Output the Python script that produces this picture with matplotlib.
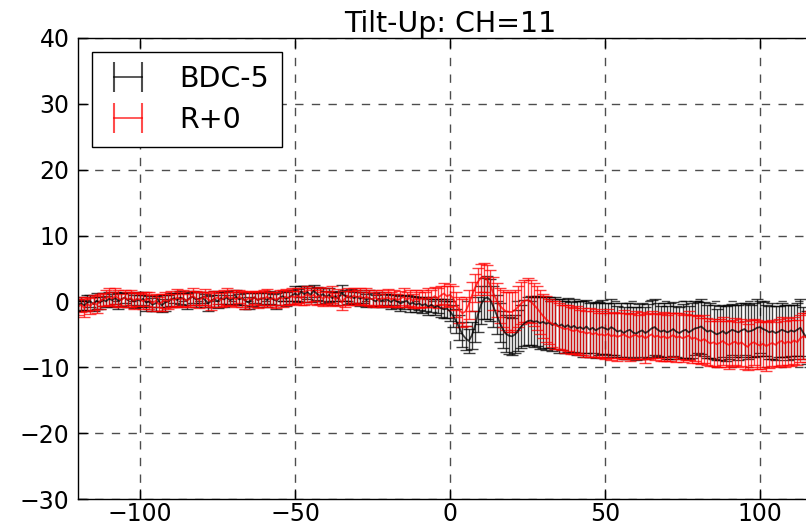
import matplotlib
matplotlib.use('Agg')
import matplotlib.pyplot as plt
from matplotlib.lines import Line2D
import numpy as np

# 数据：x 从 -120 到 116，步长 1
x = np.arange(-120, 117)

bdc = [
    -0.5, -0.3, -0.6, -0.2, 0.0, -0.4, 0.1, -0.2, 0.3, 0.0,
    0.4, 0.2, 0.5, 0.1, 0.3, 0.6, 0.2, 0.4, 0.0, 0.3,
    0.1, 0.4, -0.2, 0.0, -0.5, -0.3, 0.1, -0.6, -0.2, 0.0,
    0.3, 0.5, 0.2, 0.6, 0.4, 0.1, 0.5, 0.7, 0.3, 0.4,
    0.6, 0.2, -0.3, 0.1, 0.4, 0.0, 0.5, 0.3, 0.6, 0.2,
    0.4, 0.7, 0.3, 0.5, 0.1, -0.2, 0.3, 0.6, 0.2, 0.4,
    0.5, 0.2, 0.6, 0.3, 0.1, 0.5, 0.8, 0.4, 0.6, 0.9,
    1.2, 0.9, 1.5, 1.1, 1.4, 1.0, 1.6, 1.2, 0.8, 1.1,
    0.7, 1.0, 0.5, 0.8, 0.4, 1.3, 0.9, 0.6, 0.8, 0.5,
    0.7, 0.4, 0.6, 0.2, 0.5, 0.3, 0.0, 0.4, 0.1, 0.3,
    0.2, -0.1, 0.3, 0.0, -0.3, -0.1, 0.1, -0.4, -0.2, -0.5,
    -0.3, -0.6, -0.4, -0.8, -0.5, -0.9, -0.7, -1.0, -1.2, -1.1,
    -1.5, -2.2, -3.0, -4.0, -5.0, -5.6, -6.0, -5.2, -3.8, -2.0,
    -0.5, 0.4, 0.6, 0.2, -0.8, -2.0, -3.2, -4.2, -4.9, -5.2,
    -5.3, -5.0, -4.4, -3.8, -3.3, -3.0, -2.9, -3.1, -3.0, -3.3,
    -3.1, -3.4, -3.2, -3.6, -3.3, -3.8, -3.5, -3.9, -3.6, -4.0,
    -3.7, -4.1, -3.9, -4.2, -3.8, -4.3, -4.0, -4.4, -4.1, -3.9,
    -4.1, -4.3, -3.9, -4.2, -4.6, -4.4, -4.8, -4.5, -4.3, -4.7,
    -4.9, -4.6, -4.4, -4.8, -4.5, -4.1, -3.9, -4.3, -4.6, -4.4,
    -4.7, -4.5, -4.2, -4.6, -4.8, -4.5, -4.3, -4.7, -4.4, -4.1,
    -4.0, -3.8, -4.2, -4.6, -4.4, -4.7, -5.0, -4.8, -4.5, -4.9,
    -4.6, -4.3, -4.5, -4.7, -4.4, -4.2, -4.6, -4.5, -4.3, -4.0,
    -3.9, -4.2, -4.4, -4.7, -4.5, -4.8, -4.6, -4.3, -4.5, -4.7,
    -4.4, -4.6, -4.3, -4.0, -4.8, -5.5, -5.8,
]
bdc_err = [
    0.9, 1.0, 0.8, 1.1, 0.9, 1.0, 1.2, 0.9, 1.0, 0.8,
    1.1, 1.0, 0.9, 1.2, 1.0, 0.8, 1.1, 0.9, 1.0, 1.1,
    0.9, 1.0, 1.2, 0.8, 1.0, 1.1, 0.9, 1.0, 1.2, 0.9,
    1.0, 0.8, 1.1, 1.0, 0.9, 1.2, 1.0, 0.9, 1.1, 1.0,
    0.8, 1.0, 1.1, 0.9, 1.2, 1.0, 0.9, 1.1, 1.0, 0.8,
    1.0, 1.1, 0.9, 1.0, 1.2, 0.9, 1.0, 0.8, 1.1, 1.0,
    0.9, 1.1, 1.0, 0.9, 1.2, 1.0, 0.8, 1.1, 1.0, 0.9,
    1.1, 1.0, 0.9, 1.2, 1.0, 1.1, 0.9, 1.0, 1.2, 1.0,
    0.9, 1.1, 1.0, 0.8, 1.0, 1.2, 0.9, 1.0, 1.1, 0.9,
    1.0, 1.1, 0.9, 1.0, 1.2, 1.0, 0.9, 1.1, 1.0, 0.9,
    1.0, 1.1, 0.9, 1.0, 1.1, 1.0, 0.9, 1.2, 1.0, 1.1,
    1.0, 1.1, 1.0, 1.2, 1.1, 1.2, 1.1, 1.3, 1.3, 1.4,
    1.5, 1.7, 1.8, 1.9, 1.9, 1.8, 1.8, 2.0, 2.3, 2.6,
    2.9, 3.1, 3.2, 3.2, 3.1, 3.0, 2.9, 2.8, 2.8, 2.8,
    2.8, 2.9, 3.1, 3.3, 3.5, 3.6, 3.7, 3.8, 3.8, 3.9,
    3.9, 4.0, 3.9, 4.0, 3.9, 4.1, 3.9, 4.0, 4.1, 3.9,
    4.0, 4.1, 3.9, 4.2, 4.0, 4.1, 3.9, 4.2, 4.0, 4.1,
    3.9, 4.1, 4.2, 4.0, 3.9, 4.1, 4.0, 4.2, 4.1, 3.9,
    4.0, 4.2, 4.1, 3.9, 4.1, 4.3, 4.2, 4.0, 3.9, 4.1,
    4.0, 4.2, 4.1, 3.9, 4.0, 4.1, 4.3, 4.0, 4.2, 4.1,
    3.9, 4.2, 4.1, 4.0, 4.2, 4.1, 3.9, 4.1, 4.0, 4.2,
    4.1, 3.9, 4.0, 4.2, 4.1, 4.0, 4.2, 3.9, 4.1, 4.3,
    4.0, 4.1, 3.9, 4.0, 4.2, 4.1, 3.9, 4.1, 4.0, 4.2,
    3.9, 4.1, 4.0, 4.3, 3.9, 4.0, 4.1,
]

r0 = [
    -0.8, -0.5, -1.0, -0.4, -0.7, -0.2, -0.5, 0.0, 0.3, 0.5,
    0.7, 0.4, 0.8, 0.5, 0.2, 0.6, 0.3, 0.5, 0.1, 0.4,
    0.3, 0.0, 0.4, 0.2, -0.3, 0.1, -0.4, -0.1, 0.2, 0.0,
    0.4, 0.2, 0.6, 0.3, 0.5, 0.1, 0.4, 0.8, 0.5, 0.2,
    0.5, 0.7, 0.3, 0.0, 0.4, 0.6, 0.2, 0.5, 0.8, 0.4,
    0.6, 0.3, 0.7, 0.4, 0.1, 0.5, 0.3, 0.6, 0.2, 0.5,
    0.4, 0.7, 0.3, 0.5, 0.2, 0.6, 0.4, 0.7, 0.5, 0.8,
    0.6, 0.9, 0.5, 0.8, 1.1, 0.7, 1.0, 0.6, 0.9, 0.4,
    0.8, 0.5, 1.0, 0.3, 0.7, -0.2, 0.4, 0.8, 0.5, 0.9,
    0.6, 0.8, 0.4, 0.7, 0.5, 0.3, 0.6, 0.2, 0.5, 0.4,
    0.6, 0.3, 0.5, 0.2, 0.4, 0.7, 0.3, 0.5, 0.1, 0.4,
    0.2, 0.5, 0.3, 0.6, 0.4, 0.8, 0.5, 0.9, 1.2, 0.8,
    1.0, 0.5, -0.5, -1.3, -1.8, -1.5, -0.5, 0.8, 2.0, 3.0,
    3.6, 3.7, 3.3, 2.4, 1.2, 0.2, -0.6, -1.1, -1.5, -1.6,
    -1.6, -1.3, -0.8, -0.3, 0.1, 0.2, 0.0, -0.5, -1.0, -1.6,
    -2.2, -2.7, -3.1, -3.4, -3.6, -3.8, -4.0, -4.2, -4.1, -4.4,
    -4.5, -4.3, -4.7, -4.6, -4.9, -4.7, -5.0, -4.8, -5.1, -5.0,
    -5.2, -4.9, -5.3, -5.1, -5.4, -5.2, -5.0, -5.3, -5.5, -5.2,
    -5.1, -5.4, -5.2, -5.6, -5.3, -5.0, -5.4, -5.2, -5.5, -5.3,
    -5.6, -5.4, -5.1, -5.5, -5.3, -5.6, -5.4, -5.2, -5.7, -5.5,
    -5.8, -6.0, -5.7, -6.1, -6.4, -6.2, -6.5, -6.3, -6.0, -6.4,
    -6.6, -6.3, -6.1, -6.5, -6.2, -6.6, -6.9, -6.4, -6.2, -6.5,
    -6.7, -6.4, -6.8, -6.5, -6.3, -6.6, -6.2, -6.0, -6.4, -6.1,
    -6.3, -5.9, -6.2, -5.6, -5.3, -5.5, -5.1,
]
r0_err = [
    1.2, 1.1, 1.3, 1.0, 1.2, 1.1, 1.3, 1.2, 1.0, 1.2,
    1.3, 1.1, 1.2, 1.3, 1.0, 1.2, 1.1, 1.3, 1.2, 1.1,
    1.0, 1.2, 1.1, 1.3, 1.2, 1.0, 1.1, 1.3, 1.2, 1.1,
    1.2, 1.0, 1.3, 1.1, 1.2, 1.0, 1.2, 1.3, 1.1, 1.2,
    1.0, 1.2, 1.1, 1.3, 1.2, 1.0, 1.1, 1.2, 1.3, 1.1,
    1.2, 1.1, 1.0, 1.2, 1.3, 1.1, 1.2, 1.0, 1.2, 1.1,
    1.3, 1.2, 1.1, 1.0, 1.2, 1.1, 1.3, 1.2, 1.1, 1.2,
    1.0, 1.2, 1.1, 1.3, 1.2, 1.1, 1.0, 1.2, 1.3, 1.1,
    1.2, 1.1, 1.3, 1.0, 1.2, 1.1, 1.2, 1.3, 1.1, 1.2,
    1.1, 1.2, 1.0, 1.3, 1.2, 1.1, 1.2, 1.0, 1.2, 1.1,
    1.3, 1.1, 1.2, 1.0, 1.2, 1.3, 1.1, 1.2, 1.1, 1.3,
    1.2, 1.3, 1.2, 1.4, 1.3, 1.4, 1.5, 1.5, 1.6, 1.6,
    1.7, 1.8, 1.9, 2.0, 2.1, 2.2, 2.2, 2.2, 2.1, 2.1,
    2.1, 2.2, 2.3, 2.4, 2.5, 2.6, 2.7, 2.8, 2.9, 3.0,
    3.0, 3.1, 3.1, 3.2, 3.2, 3.3, 3.3, 3.3, 3.4, 3.4,
    3.4, 3.5, 3.4, 3.5, 3.6, 3.5, 3.4, 3.6, 3.5, 3.6,
    3.5, 3.6, 3.4, 3.6, 3.5, 3.7, 3.5, 3.6, 3.4, 3.6,
    3.5, 3.7, 3.6, 3.5, 3.6, 3.4, 3.7, 3.5, 3.6, 3.5,
    3.6, 3.4, 3.6, 3.7, 3.5, 3.6, 3.5, 3.4, 3.6, 3.7,
    3.5, 3.6, 3.4, 3.7, 3.5, 3.6, 3.5, 3.7, 3.6, 3.5,
    3.6, 3.5, 3.7, 3.6, 3.4, 3.6, 3.5, 3.7, 3.6, 3.5,
    3.7, 3.5, 3.6, 3.4, 3.6, 3.7, 3.5, 3.6, 3.5, 3.7,
    3.6, 3.5, 3.7, 3.6, 3.5, 3.4, 3.6, 3.7, 3.5, 3.6,
    3.5, 3.6, 3.4, 3.6, 3.5, 3.7, 3.6,
]

plt.rcParams['font.family'] = ['DejaVu Sans']
plt.rcParams['font.size'] = 17

fig = plt.figure(figsize=[8.06, 5.27], dpi=100)
# 右侧坐标轴被裁掉，与原图一致
ax = fig.add_axes([0.0968, 0.0531, 1.0199 - 0.0968, 0.928 - 0.0531])

ax.errorbar(x, bdc, yerr=bdc_err, color='k', lw=1.3, elinewidth=1.0,
            capsize=4, capthick=1.0, alpha=0.75)
ax.errorbar(x, r0, yerr=r0_err, color='r', lw=1.3, elinewidth=1.0,
            capsize=4, capthick=1.0, alpha=0.75)

ax.set_xlim(-120, 120)
ax.set_ylim(-30, 40)
ax.set_xticks([-100, -50, 0, 50, 100])
ax.set_yticks(np.arange(-30, 41, 10))
ax.tick_params(direction='in', top=True, right=True, length=7, width=1,
               labelsize=17)
ax.tick_params(axis='y', pad=6)
ax.tick_params(axis='x', pad=2)
ax.grid(True, color='0.3', linestyle=(0, (6, 6)), lw=1)
for s in ax.spines.values():
    s.set_linewidth(1.0)
ax.set_title('Tilt-Up: CH=11', fontsize=20.5, pad=4)

# 图例：两端带竖线的误差棒样式
h_bdc = Line2D([], [], color='k', alpha=0.7, lw=1.3, marker='|',
               markersize=22, markeredgewidth=1.5)
h_r0 = Line2D([], [], color='r', alpha=0.7, lw=1.3, marker='|',
              markersize=22, markeredgewidth=1.5)
leg = ax.legend([h_bdc, h_r0], ['BDC-5', 'R+0'], loc='upper left',
                fontsize=20.5, fancybox=False, numpoints=2,
                borderpad=0.45, handlelength=1.6, handletextpad=1.0,
                labelspacing=0.45, framealpha=1)
leg.get_frame().set_edgecolor('k')
leg.get_frame().set_linewidth(1.0)

fig.savefig('out.png', dpi=100)
